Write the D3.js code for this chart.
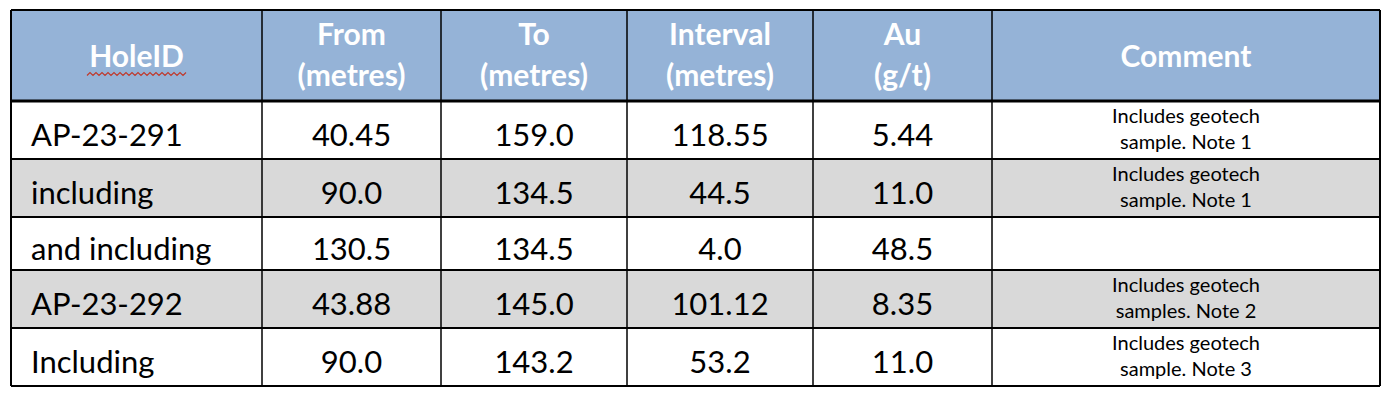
<!DOCTYPE html>
<html><head><meta charset="utf-8">
<script src="https://cdn.jsdelivr.net/npm/d3@7"></script>
<style>body{margin:0;background:#fff}</style>
</head><body>
<svg id="t" width="1392" height="402"></svg>
<script>
// table data
var headers = [["HoleID"], ["From", "(metres)"], ["To", "(metres)"], ["Interval", "(metres)"], ["Au", "(g/t)"], ["Comment"]];
var holeIds = ["AP-23-291", "including", "and including", "AP-23-292", "Including"];
var fromVals = ["40.45", "90.0", "130.5", "43.88", "90.0"];
var toVals = ["159.0", "134.5", "134.5", "145.0", "143.2"];
var intervals = ["118.55", "44.5", "4.0", "101.12", "53.2"];
var auVals = ["5.44", "11.0", "48.5", "8.35", "11.0"];
var comments = [["Includes geotech", "sample. Note 1"], ["Includes geotech", "sample. Note 1"], [],
                ["Includes geotech", "samples. Note 2"], ["Includes geotech", "sample. Note 3"]];

var colEdges = [11, 262, 441, 627, 813, 992, 1380];
var rowEdges = [101, 159, 217, 270, 328, 386];
var tableTop = 10;
var font = "Lato, 'Open Sans', sans-serif";

var svg = d3.select("#t");

// header background
svg.append("rect").attr("x", colEdges[0]).attr("y", tableTop)
   .attr("width", colEdges[6] - colEdges[0]).attr("height", rowEdges[0] - tableTop)
   .attr("fill", "#95b3d7");

// row backgrounds
rowEdges.slice(0, -1).forEach(function(y, i){
  svg.append("rect").attr("x", colEdges[0]).attr("y", y)
     .attr("width", colEdges[6] - colEdges[0]).attr("height", rowEdges[i+1] - y)
     .attr("fill", i % 2 ? "#d9d9d9" : "#fff");
});

// header text
headers.forEach(function(h, c){
  var cx = (colEdges[c] + colEdges[c+1]) / 2;
  var t = svg.append("text").attr("text-anchor", "middle").attr("fill", "#fff")
     .attr("font-family", font).attr("font-weight", "bold").attr("font-size", 30);
  if (h.length == 1) {
    t.append("tspan").attr("x", cx).attr("y", 67).text(h[0]);
  } else {
    t.append("tspan").attr("x", cx).attr("y", 45).text(h[0]);
    t.append("tspan").attr("x", cx).attr("y", 86).text(h[1]);
  }
});
// spelling squiggle under HoleID
var sq = d3.range(0, 34).map(function(i){ return [87 + i * 3, 74 + (i % 2 ? -1.5 : 1.5)]; });
svg.append("path").attr("d", d3.line()(sq)).attr("fill", "none").attr("stroke", "#c0392b").attr("stroke-width", 1.2);

// body
var cols = [holeIds, fromVals, toVals, intervals, auVals];
cols.forEach(function(arr, c){
  arr.forEach(function(v, r){
    var cy = (rowEdges[r] + rowEdges[r+1]) / 2;
    svg.append("text")
      .attr("x", c == 0 ? 31 : (colEdges[c] + colEdges[c+1]) / 2)
      .attr("y", cy + 16)
      .attr("text-anchor", c == 0 ? "start" : "middle")
      .attr("font-family", font).attr("font-size", 31).attr("fill", "#000")
      .text(v);
  });
});
comments.forEach(function(lines, r){
  var cx = (colEdges[5] + colEdges[6]) / 2;
  lines.forEach(function(l, k){
    svg.append("text").attr("x", cx).attr("y", rowEdges[r] + 22 + k * 26)
      .attr("text-anchor", "middle").attr("font-family", font).attr("font-size", 20)
      .text(l);
  });
});

// grid lines
colEdges.forEach(function(x, i){
  svg.append("line").attr("x1", x).attr("x2", x).attr("y1", tableTop).attr("y2", rowEdges[5])
     .attr("stroke", "#000").attr("stroke-width", (i == 0 || i == 6) ? 2 : 1.5);
});
[tableTop].concat(rowEdges).forEach(function(y, i){
  svg.append("line").attr("x1", colEdges[0]).attr("x2", colEdges[6]).attr("y1", y).attr("y2", y)
     .attr("stroke", "#000").attr("stroke-width", i == 1 ? 3 : 2);
});
</script>
</body></html>
